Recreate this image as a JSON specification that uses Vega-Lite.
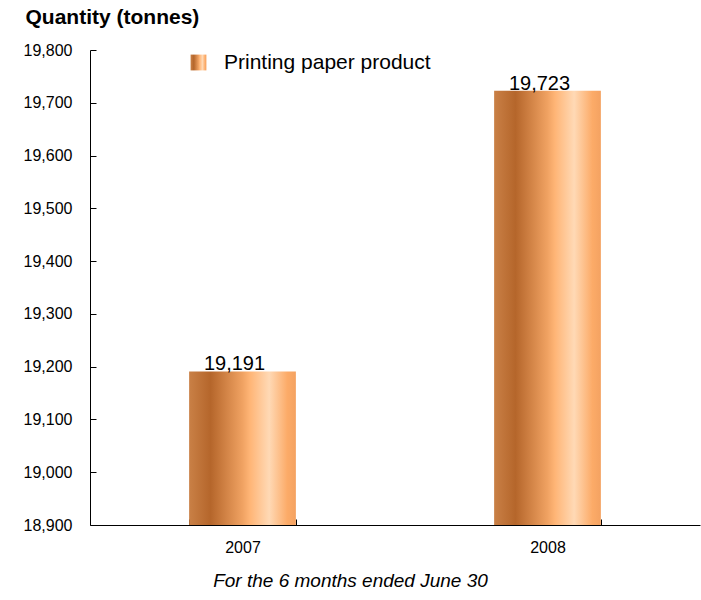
{
  "$schema": "https://vega.github.io/schema/vega-lite/v6.json",
  "width": 610,
  "height": 475,
  "autosize": {"type": "none"},
  "padding": {"left": 90, "top": 50, "right": 1, "bottom": 75},
  "background": "white",
  "config": {
    "view": {"stroke": null},
    "font": "Liberation Sans",
    "axis": {"labelColor": "black", "titleColor": "black", "domainColor": "black", "tickColor": "black", "grid": false, "labelFont": "Liberation Sans", "titleFont": "Liberation Sans"},
    "legend": {"labelColor": "black", "labelFont": "Liberation Sans"}
  },
  "data": {
    "values": [
      {"year": "2007", "quantity": 19191, "series": "Printing paper product"},
      {"year": "2008", "quantity": 19723, "series": "Printing paper product"}
    ]
  },
  "encoding": {
    "x": {
      "field": "year",
      "type": "nominal",
      "scale": {"paddingInner": 0.65, "paddingOuter": 0.325},
      "axis": {
        "labelAngle": 0,
        "tickBand": "extent",
        "tickSize": -6,
        "labelFontSize": 16,
        "labelPadding": 20,
        "title": "For the 6 months ended June 30",
        "titleFontStyle": "italic",
        "titleFontWeight": "normal",
        "titleFontSize": 19,
        "titlePadding": 16,
        "titleX": 260
      }
    }
  },
  "layer": [
    {
      "mark": {
        "type": "bar",
        "fill": {
          "gradient": "linear",
          "x1": 0, "y1": 0, "x2": 1, "y2": 0,
          "stops": [
            {"offset": 0, "color": "#C98046"},
            {"offset": 0.2, "color": "#B5662B"},
            {"offset": 0.5, "color": "#F0A262"},
            {"offset": 0.57, "color": "#FFB576"},
            {"offset": 0.75, "color": "#FFD9B5"},
            {"offset": 0.92, "color": "#FCAB68"},
            {"offset": 1, "color": "#F4A261"}
          ]
        }
      },
      "encoding": {
        "y": {
          "field": "quantity",
          "type": "quantitative",
          "scale": {"domain": [18900, 19800], "zero": false, "nice": false},
          "axis": {
            "values": [18900, 19000, 19100, 19200, 19300, 19400, 19500, 19600, 19700, 19800],
            "format": ",d",
            "tickSize": -6,
            "labelFontSize": 16,
            "labelPadding": 24,
            "title": "Quantity (tonnes)",
            "titleAngle": 0,
            "titleAlign": "left",
            "titleBaseline": "alphabetic",
            "titleX": -65,
            "titleY": -27,
            "titleFontSize": 21,
            "titleFontWeight": "bold"
          }
        },
        "y2": {"datum": 18900},
        "opacity": {
          "field": "series",
          "type": "nominal",
          "scale": {"range": [1]},
          "legend": {
            "orient": "none",
            "legendX": 98,
            "legendY": 2,
            "title": null,
            "padding": 0,
            "labelFontSize": 21,
            "labelLimit": 400,
            "symbolType": "square",
            "symbolSize": 250,
            "symbolStrokeWidth": 0,
            "symbolFillColor": "#E09050",
            "labelOffset": 15
          }
        }
      }
    },
    {
      "mark": {"type": "text", "baseline": "alphabetic", "dx": -8, "dy": -1, "fontSize": 20, "color": "black"},
      "encoding": {
        "y": {"field": "quantity", "type": "quantitative"},
        "text": {"field": "quantity", "type": "quantitative", "format": ",d"}
      }
    }
  ]
}
